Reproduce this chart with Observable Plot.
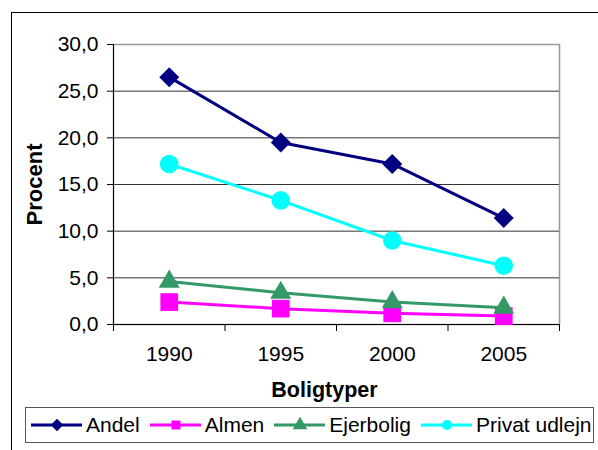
<!DOCTYPE html>
<html>
<head>
<meta charset="utf-8">
<script src="https://cdn.jsdelivr.net/npm/d3@7"></script>
<script src="https://cdn.jsdelivr.net/npm/@observablehq/plot@0.6"></script>
<style>
  html, body { margin: 0; padding: 0; background: #fff; }
  #wrap { position: relative; width: 598px; height: 450px; overflow: hidden; font-family: "Liberation Sans", Arial, sans-serif; }
  #border { position: absolute; left: 11px; top: 12px; width: 700px; height: 600px; border-left: 1px solid #000; border-top: 1px solid #000; box-sizing: border-box; }
  #chart { position: absolute; left: 0; top: 0; }
  #legend { position: absolute; left: 25px; top: 407px; width: 569px; height: 36px; border: 1px solid #555; box-sizing: border-box; display: flex; align-items: center; padding-left: 5px; font-size: 21px; color: #000; white-space: nowrap; }
  #legend .item { display: flex; align-items: center; margin-right: 10px; }
  #legend .item span { margin-left: 4px; }
  #legend svg { display: block; }
</style>
</head>
<body>
<div id="wrap">
  <div id="border"></div>
  <div id="chart"></div>
  <div id="legend"></div>
</div>
<script>
// ---- data ----
const years = [1990, 1995, 2000, 2005];
const seriesNames = ["Andel", "Almen", "Ejerbolig", "Privat udlejn"];
const andel = [26.5, 19.5, 17.2, 11.4];
const almen = [2.4, 1.7, 1.2, 0.9];
const ejerbolig = [4.6, 3.4, 2.4, 1.8];
const privatUdlejn = [17.2, 13.3, 9.0, 6.3];
const yTicks = [0, 5, 10, 15, 20, 25, 30];
const xTitle = "Boligtyper";
const yTitle = "Procent";

const colors = ["#000080", "#FF00FF", "#339966", "#00FFFF"];
const symbols = ["diamond2", "square", "triangle", "circle"];
const markerR = [9, 10, 7.8, 9.3];

const valuesBySeries = [andel, almen, ejerbolig, privatUdlejn];
const data = seriesNames.flatMap((s, i) => years.map((y, j) => ({series: s, year: y, value: valuesBySeries[i][j]})));

const step = years[1] - years[0];
const boundaries = [...years.map(y => y - step / 2), years[years.length - 1] + step / 2];
const fmt = d => d.toFixed(1).replace(".", ",");

const marks = [
  Plot.gridY(yTicks.filter(t => t > 0 && t < 30), {stroke: "#333", strokeOpacity: 1, strokeWidth: 1}),
  Plot.frame({stroke: "#999", strokeWidth: 1.5}),
  Plot.ruleX([boundaries[0]], {stroke: "#000", strokeWidth: 1}),
  Plot.ruleY([0], {stroke: "#000", strokeWidth: 1}),
  Plot.axisY({ticks: yTicks, tickSize: 6, tickPadding: 9, tickFormat: fmt, fontSize: 21, label: null, stroke: "#000"}),
  Plot.axisX({ticks: boundaries, tickSize: 7, tickFormat: () => "", label: null}),
  Plot.axisX({ticks: years, tickSize: 0, tickPadding: 22, tickFormat: d => String(d), fontSize: 21, label: null}),
  Plot.text([xTitle], {frameAnchor: "bottom", dx: -12, dy: 66, lineAnchor: "middle", fontSize: 21.5, fontWeight: "bold", fill: "#000"}),
  Plot.text([yTitle], {frameAnchor: "left", dx: -79, rotate: -90, lineAnchor: "middle", textAnchor: "middle", fontSize: 22, fontWeight: "bold", fill: "#000"})
];
seriesNames.forEach((s, i) => {
  const d = data.filter(r => r.series === s);
  marks.push(Plot.line(d, {x: "year", y: "value", stroke: colors[i], strokeWidth: 3}));
  marks.push(Plot.dot(d, {x: "year", y: "value", fill: colors[i], stroke: "none", symbol: symbols[i], r: markerR[i]}));
});

const chart = Plot.plot({
  width: 598,
  height: 400,
  marginLeft: 113,
  marginRight: 39,
  marginTop: 44,
  marginBottom: 76,
  style: {fontFamily: "'Liberation Sans', Arial, sans-serif", fontSize: "21px", color: "#000", background: "transparent", overflow: "visible"},
  x: {type: "linear", domain: [boundaries[0], boundaries[boundaries.length - 1]]},
  y: {domain: [0, 30]},
  marks
});
document.getElementById("chart").append(chart);

// ---- legend ----
const symMap = {diamond2: d3.symbolDiamond2, square: d3.symbolSquare, triangle: d3.symbolTriangle, circle: d3.symbolCircle};
const legend = d3.select("#legend");
seriesNames.forEach((s, i) => {
  const item = legend.append("div").attr("class", "item");
  const svg = item.append("svg").attr("width", 51).attr("height", 20);
  svg.append("line").attr("x1", 0).attr("x2", 51).attr("y1", 10).attr("y2", 10).attr("stroke", colors[i]).attr("stroke-width", 3);
  svg.append("path").attr("transform", "translate(26,10)")
    .attr("d", d3.symbol(symMap[symbols[i]], i === 0 ? 100 : i === 2 ? 90 : 80)()).attr("fill", colors[i]);
  item.append("span").text(s);
});
</script>
</body>
</html>
